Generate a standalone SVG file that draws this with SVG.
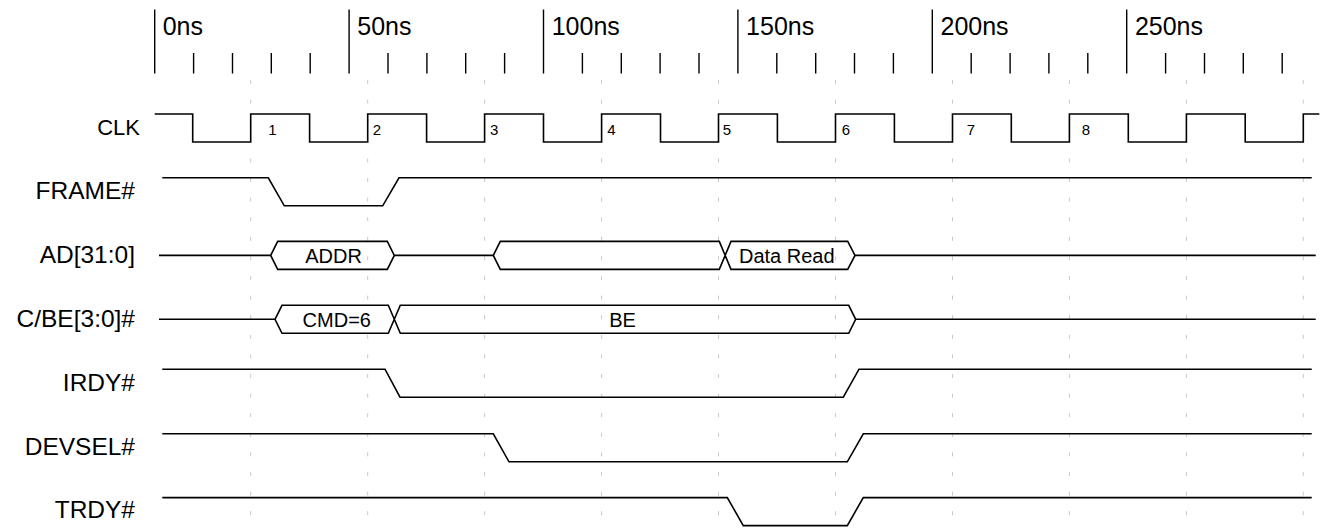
<svg xmlns="http://www.w3.org/2000/svg" width="1323" height="529" viewBox="0 0 1323 529">
<style>
text{font-family:"Liberation Sans",Arial,Helvetica,sans-serif;fill:#000}
.lbl{font-size:24.5px;text-anchor:end}
.ruler{font-size:25px}
.num{font-size:15px}
.bus{font-size:20px;text-anchor:middle}
.tick{stroke:#000;stroke-width:1.4}
.grid{stroke:#c8c8c8;stroke-width:1;stroke-dasharray:4 15.6}
.wave{fill:none;stroke:#000;stroke-width:1.6;stroke-linejoin:miter}
</style>
<rect width="1323" height="529" fill="#fff"/>
<g id="ruler">
<g class="tick">
<line x1="154.7" y1="9.5" x2="154.7" y2="73.5"/>
<line x1="349.1" y1="9.5" x2="349.1" y2="73.5"/>
<line x1="543.5" y1="9.5" x2="543.5" y2="73.5"/>
<line x1="737.9" y1="9.5" x2="737.9" y2="73.5"/>
<line x1="932.3" y1="9.5" x2="932.3" y2="73.5"/>
<line x1="1126.7" y1="9.5" x2="1126.7" y2="73.5"/>
<line x1="193.6" y1="53" x2="193.6" y2="73.5"/>
<line x1="232.5" y1="53" x2="232.5" y2="73.5"/>
<line x1="271.3" y1="53" x2="271.3" y2="73.5"/>
<line x1="310.2" y1="53" x2="310.2" y2="73.5"/>
<line x1="388" y1="53" x2="388" y2="73.5"/>
<line x1="426.9" y1="53" x2="426.9" y2="73.5"/>
<line x1="465.7" y1="53" x2="465.7" y2="73.5"/>
<line x1="504.6" y1="53" x2="504.6" y2="73.5"/>
<line x1="582.4" y1="53" x2="582.4" y2="73.5"/>
<line x1="621.3" y1="53" x2="621.3" y2="73.5"/>
<line x1="660.1" y1="53" x2="660.1" y2="73.5"/>
<line x1="699" y1="53" x2="699" y2="73.5"/>
<line x1="776.8" y1="53" x2="776.8" y2="73.5"/>
<line x1="815.7" y1="53" x2="815.7" y2="73.5"/>
<line x1="854.5" y1="53" x2="854.5" y2="73.5"/>
<line x1="893.4" y1="53" x2="893.4" y2="73.5"/>
<line x1="971.2" y1="53" x2="971.2" y2="73.5"/>
<line x1="1010.1" y1="53" x2="1010.1" y2="73.5"/>
<line x1="1048.9" y1="53" x2="1048.9" y2="73.5"/>
<line x1="1087.8" y1="53" x2="1087.8" y2="73.5"/>
<line x1="1165.6" y1="53" x2="1165.6" y2="73.5"/>
<line x1="1204.5" y1="53" x2="1204.5" y2="73.5"/>
<line x1="1243.3" y1="53" x2="1243.3" y2="73.5"/>
<line x1="1282.2" y1="53" x2="1282.2" y2="73.5"/>
</g>
<text class="ruler" x="162.7" y="35">0ns</text>
<text class="ruler" x="357.3" y="35">50ns</text>
<text class="ruler" x="551.7" y="35">100ns</text>
<text class="ruler" x="746.1" y="35">150ns</text>
<text class="ruler" x="940.5" y="35">200ns</text>
<text class="ruler" x="1134.9" y="35">250ns</text>
</g>
<g id="grid" class="grid">
<line x1="250.7" y1="80" x2="250.7" y2="529"/>
<line x1="367.7" y1="80" x2="367.7" y2="529"/>
<line x1="484.6" y1="80" x2="484.6" y2="529"/>
<line x1="601.6" y1="80" x2="601.6" y2="529"/>
<line x1="718.5" y1="80" x2="718.5" y2="529"/>
<line x1="835.5" y1="80" x2="835.5" y2="529"/>
<line x1="952.5" y1="80" x2="952.5" y2="529"/>
<line x1="1069.4" y1="80" x2="1069.4" y2="529"/>
<line x1="1186.4" y1="80" x2="1186.4" y2="529"/>
<line x1="1303.3" y1="80" x2="1303.3" y2="529"/>
</g>
<g id="CLK">
<text class="lbl" x="140" y="135" style="font-size:22px">CLK</text>
<path class="wave" d="M154.7,114 H192.7 V142 H250.7 V114 H309.6 V142 H367.7 V114 H426.6 V142 H484.6 V114 H543.5 V142 H601.6 V114 H660.5 V142 H718.5 V114 H777.4 V142 H835.5 V114 H894.4 V142 H952.5 V114 H1011.3 V142 H1069.4 V114 H1128.3 V142 H1186.4 V114 H1245.2 V142 H1303.3 V114 H1319.3"/>
<text class="num" x="268.3" y="135">1</text>
<text class="num" x="372.7" y="135">2</text>
<text class="num" x="490" y="135">3</text>
<text class="num" x="607.3" y="135">4</text>
<text class="num" x="722.7" y="135">5</text>
<text class="num" x="841.7" y="135">6</text>
<text class="num" x="966.7" y="135">7</text>
<text class="num" x="1081.7" y="135">8</text>
</g>
<g id="FRAME">
<text class="lbl" x="135" y="199">FRAME#</text>
<path class="wave" d="M162.3,177.8 H268.3 L284.3,205.8 H382.7 L399,177.8 H1311.7"/>
</g>
<g id="AD">
<text class="lbl" x="135" y="263">AD[31:0]</text>
<path class="wave" d="M159,255.4 H270.7 M394.3,255.4 H493.3 M855,255.4 H1315.7"/>
<path class="wave" d="M270.7,255.4 L277.7,241.4 H387.3 L394.3,255.4 L387.3,269.4 H277.7 Z"/>
<path class="wave" d="M493.3,255.4 L500.3,241.4 H719.3 L731,269.4 H847.7 L855,255.4 L847.7,241.4 H731 L719.3,269.4 H500.3 Z"/>
<text class="bus" x="333.5" y="263">ADDR</text>
<text class="bus" x="786.8" y="263">Data Read</text>
</g>
<g id="CBE">
<text class="lbl" x="135" y="327">C/BE[3:0]#</text>
<path class="wave" d="M159,319.3 H275 M855.7,319.3 H1315.7"/>
<path class="wave" d="M275,319.3 L282,305.3 H388.3 L400.3,333.3 H848.7 L855.7,319.3 L848.7,305.3 H400.3 L388.3,333.3 H282 Z"/>
<text class="bus" x="336.8" y="327">CMD=6</text>
<text class="bus" x="622.5" y="327">BE</text>
</g>
<g id="IRDY">
<text class="lbl" x="135" y="391">IRDY#</text>
<path class="wave" d="M162.3,369.2 H385 L400,397.2 H843.3 L859,369.2 H1311.7"/>
</g>
<g id="DEVSEL">
<text class="lbl" x="135" y="455">DEVSEL#</text>
<path class="wave" d="M162.3,433.8 H493.3 L509,461.8 H847.3 L863.3,433.8 H1311.7"/>
</g>
<g id="TRDY">
<text class="lbl" x="135" y="518">TRDY#</text>
<path class="wave" d="M162.3,497.6 H727.3 L743.3,525.6 H847.3 L863.3,497.6 H1311.7"/>
</g>
</svg>
